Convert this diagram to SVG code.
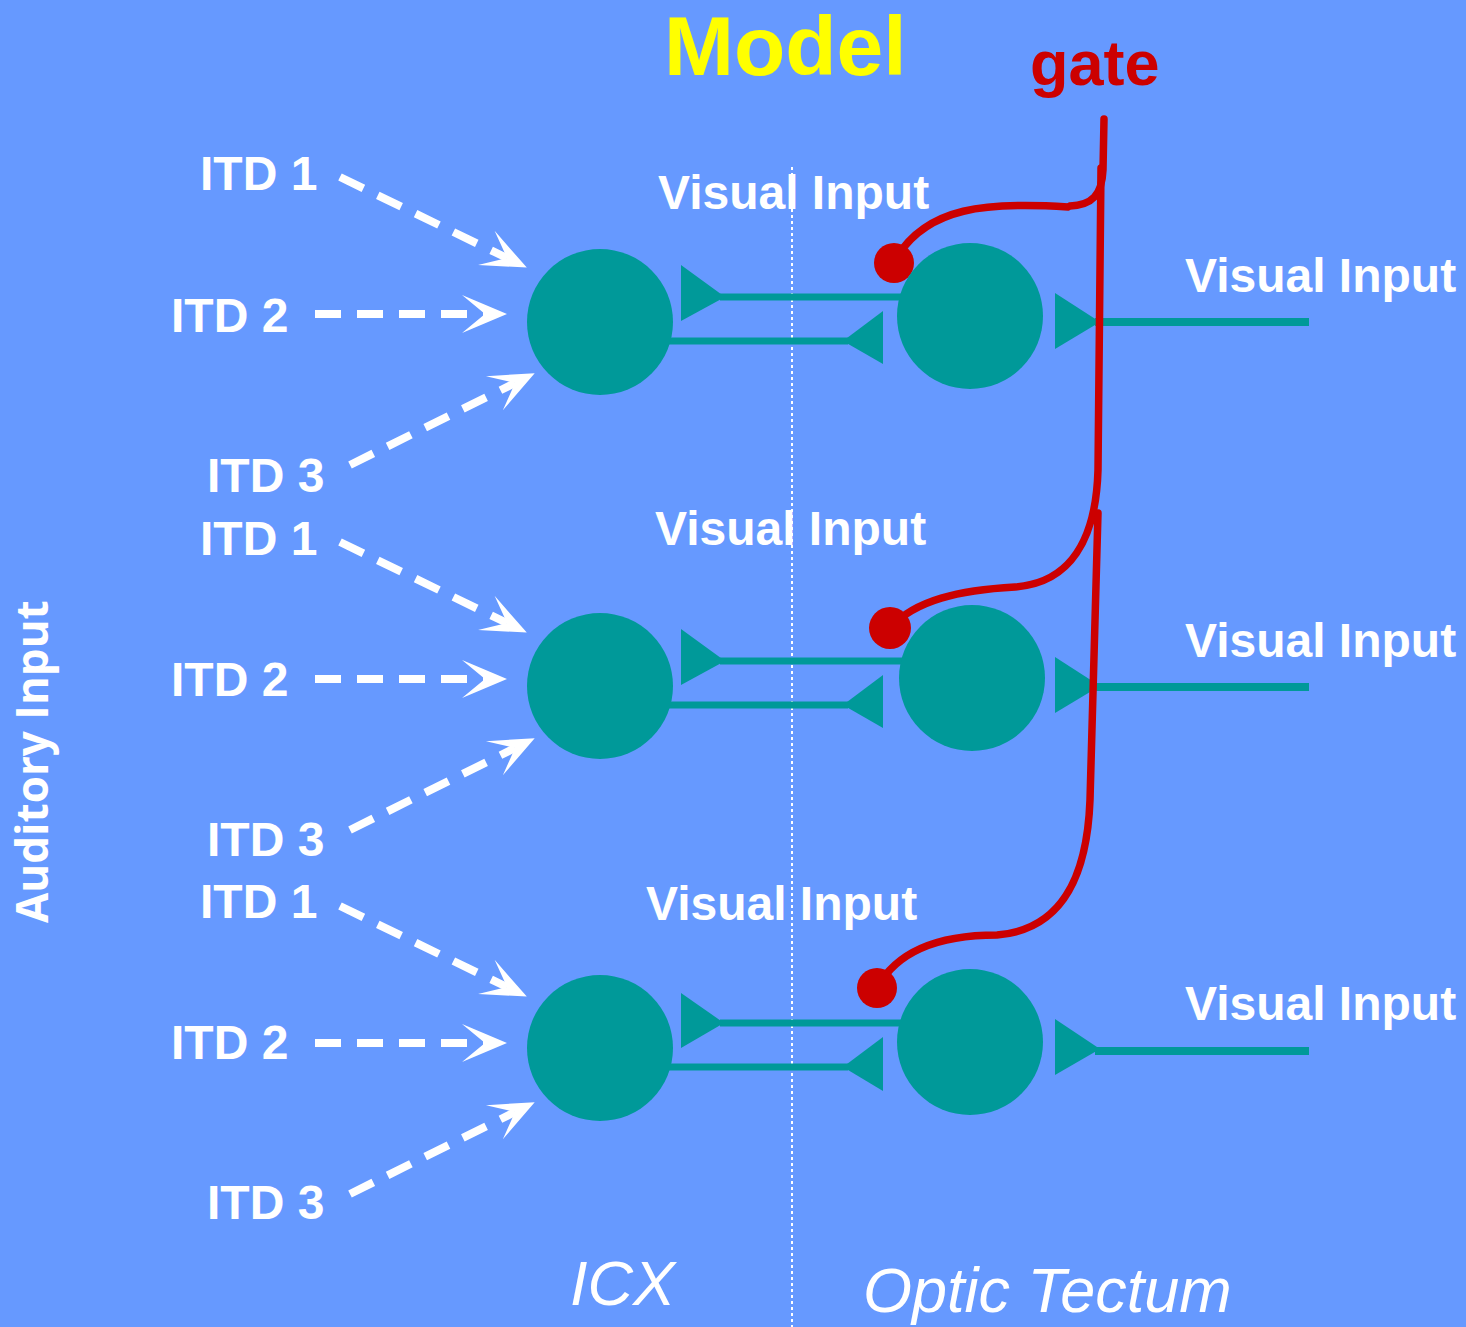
<svg xmlns="http://www.w3.org/2000/svg" width="1466" height="1327" viewBox="0 0 1466 1327">
<defs>
<style>
.bg{fill:#6699FF}
.neuron{fill:#009999}
.syn{fill:#009999}
.axon{stroke:#009999;stroke-width:7;fill:none}
.out{stroke:#009999;stroke-width:8;fill:none}
.dash{stroke:#FFFFFF;stroke-width:8;stroke-dasharray:26 16;fill:none;marker-end:url(#barb)}
.gate{stroke:#CC0000;stroke-width:7.5;fill:none;stroke-linecap:round}
.dot{fill:#CC0000}
.lbl{font-family:"Liberation Sans",Arial,sans-serif;font-weight:bold;fill:#FFFFFF}
.itd{font-size:48px}
.vis{font-size:48px}
.region{font-family:"Liberation Sans",Arial,sans-serif;font-style:italic;font-size:63px;fill:#FFFFFF}
</style>
<marker id="barb" markerUnits="userSpaceOnUse" viewBox="-1 -20 48 40" markerWidth="48" markerHeight="40" refX="23" refY="0" orient="auto" overflow="visible">
<path d="M0,-19 L45,0 L0,19 L23,0 Z" fill="#FFFFFF"/>
</marker>
</defs>
<rect class="bg" x="0" y="0" width="1466" height="1327"/>
<line x1="792" y1="167" x2="792" y2="1327" stroke="#FFFFFF" stroke-width="2" stroke-dasharray="3 3"/>

<g id="title"><text x="664" y="75" font-family="'Liberation Sans',Arial,sans-serif" font-weight="bold" font-size="84" fill="#FFFF00">Model</text></g>
<g id="gate-label"><text x="1030" y="85" font-family="'Liberation Sans',Arial,sans-serif" font-weight="bold" font-size="63" fill="#CC0000">gate</text></g>
<g id="auditory-label"><text transform="translate(48,923) rotate(-90)" font-family="'Open Sans','DejaVu Sans',sans-serif" font-weight="bold" font-size="44" fill="#FFFFFF">Auditory Input</text></g>
<g id="icx-label"><text class="region" x="570" y="1305">ICX</text></g>
<g id="ot-label"><text class="region" x="863" y="1312" font-size="64">Optic Tectum</text></g>

<g id="connectors">
  <g id="row1-inputs">
    <path class="dash" d="M340,177 L507,258"/>
    <path class="dash" d="M315,314 L485,314"/>
    <path class="dash" d="M350,465 L515,383"/>
  </g>
  <g id="row2-inputs" transform="translate(0,365)">
    <path class="dash" d="M340,177 L507,258"/>
    <path class="dash" d="M315,314 L485,314"/>
    <path class="dash" d="M350,465 L515,383"/>
  </g>
  <g id="row3-inputs" transform="translate(0,729)">
    <path class="dash" d="M340,177 L507,258"/>
    <path class="dash" d="M315,314 L485,314"/>
    <path class="dash" d="M350,465 L515,383"/>
  </g>

  <g id="row1-links">
    <line class="axon" x1="720" y1="297" x2="905" y2="297"/>
    <polygon class="syn" points="681,265 725,297 681,321"/>
    <line class="axon" x1="665" y1="341" x2="848" y2="341"/>
    <polygon class="syn" points="883,311 843,341 883,364"/>
    <line class="out" x1="1095" y1="322" x2="1309" y2="322"/>
    <polygon class="syn" points="1055,293 1100,322 1055,349"/>
  </g>
  <g id="row2-links">
    <line class="axon" x1="720" y1="661" x2="905" y2="661"/>
    <polygon class="syn" points="681,629 725,661 681,685"/>
    <line class="axon" x1="665" y1="705" x2="848" y2="705"/>
    <polygon class="syn" points="883,675 843,705 883,728"/>
    <line class="out" x1="1095" y1="687" x2="1309" y2="687"/>
    <polygon class="syn" points="1055,657 1100,686 1055,713"/>
  </g>
  <g id="row3-links">
    <line class="axon" x1="720" y1="1023" x2="905" y2="1023"/>
    <polygon class="syn" points="681,993 724,1023 681,1048"/>
    <line class="axon" x1="665" y1="1067" x2="848" y2="1067"/>
    <polygon class="syn" points="883,1037 843,1067 883,1091"/>
    <line class="out" x1="1095" y1="1051" x2="1309" y2="1051"/>
    <polygon class="syn" points="1055,1019 1100,1049 1055,1075"/>
  </g>

  <g id="gate-lines">
    <path class="gate" d="M1104,119 L1103,170 C1102,195 1092,205 1070,206 L1068,207 C990,202 925,205 894,262"/>
    <path class="gate" d="M1101,168 L1098,470 C1096,540 1070,583 1015,587 C960,590 915,600 890,628"/>
    <path class="gate" d="M1098,513 L1090,800 C1087,880 1060,930 997,935 C950,935 900,945 877,988"/>
    <circle class="dot" cx="894" cy="263" r="20"/>
    <circle class="dot" cx="890" cy="628" r="21"/>
    <circle class="dot" cx="877" cy="988" r="20"/>
  </g>
</g>

<g id="icx1"><circle class="neuron" cx="600" cy="322" r="73"/></g>
<g id="icx2"><circle class="neuron" cx="600" cy="686" r="73"/></g>
<g id="icx3"><circle class="neuron" cx="600" cy="1048" r="73"/></g>
<g id="ot1"><circle class="neuron" cx="970" cy="316" r="73"/></g>
<g id="ot2"><circle class="neuron" cx="972" cy="678" r="73"/></g>
<g id="ot3"><circle class="neuron" cx="970" cy="1042" r="73"/></g>

<g id="labels-row1">
  <text class="lbl itd" x="200" y="190">ITD 1</text>
  <text class="lbl itd" x="171" y="332">ITD 2</text>
  <text class="lbl itd" x="207" y="492">ITD 3</text>
  <text class="lbl vis" x="658" y="209">Visual Input</text>
  <text class="lbl vis" x="1185" y="292">Visual Input</text>
</g>
<g id="labels-row2">
  <text class="lbl itd" x="200" y="555">ITD 1</text>
  <text class="lbl itd" x="171" y="696">ITD 2</text>
  <text class="lbl itd" x="207" y="856">ITD 3</text>
  <text class="lbl vis" x="655" y="545">Visual Input</text>
  <text class="lbl vis" x="1185" y="657">Visual Input</text>
</g>
<g id="labels-row3">
  <text class="lbl itd" x="200" y="918">ITD 1</text>
  <text class="lbl itd" x="171" y="1059">ITD 2</text>
  <text class="lbl itd" x="207" y="1219">ITD 3</text>
  <text class="lbl vis" x="646" y="920">Visual Input</text>
  <text class="lbl vis" x="1185" y="1020">Visual Input</text>
</g>
</svg>
